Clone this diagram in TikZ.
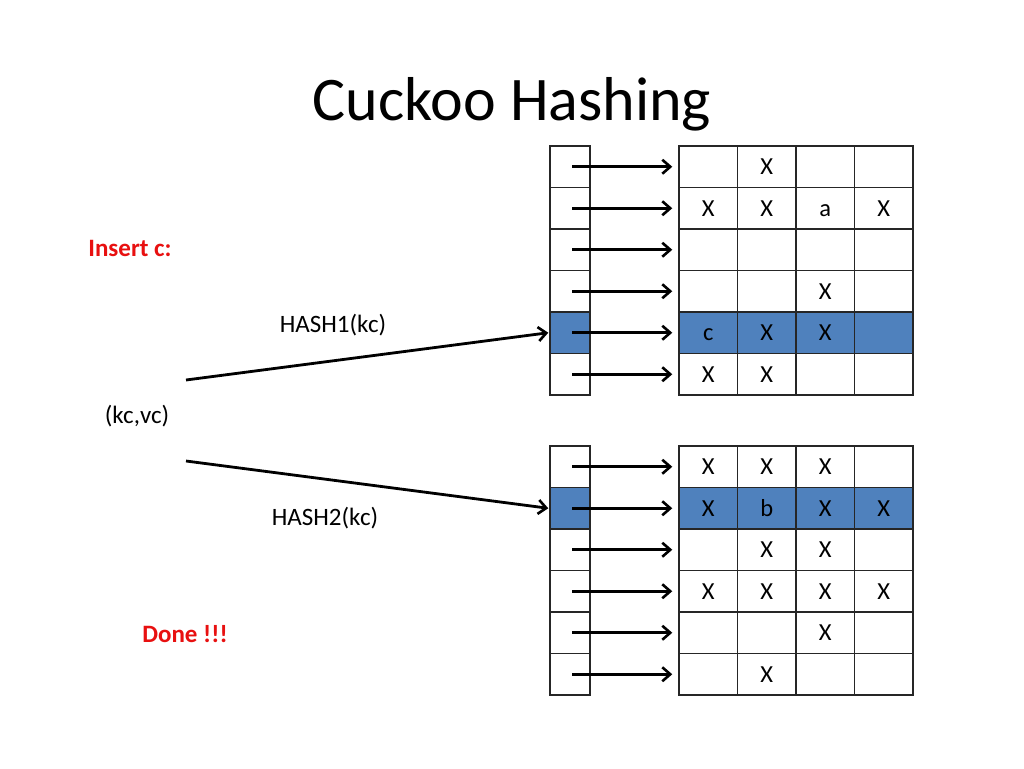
\documentclass[tikz,border=0pt]{standalone}
\usepackage{fontspec}
\setmainfont{Carlito}
\usetikzlibrary{arrows.meta}
\definecolor{hlblue}{HTML}{4F81BD}
\definecolor{hred}{HTML}{E81010}
\newcommand{\cv}[1]{\edef\tmpv{#1}\def\tmpd{-}\ifx\tmpv\tmpd\else#1\fi}
\tikzset{
  cellbox/.style={draw=black!85, line width=1.5pt, minimum width=58.5pt, minimum height=41.5pt, inner sep=0pt, text height=15.5pt, text depth=0pt, font=\fontsize{24.5}{28}\selectfont},
  idxbox/.style={draw=black!85, line width=1.5pt, minimum width=40pt, minimum height=41.5pt, inner sep=0pt},
  hl/.style={fill=hlblue},
  arr/.style={line width=2.8pt, -{Straight Barb[length=8pt,width=14pt,line width=2.6pt]}},
  lbl/.style={font=\fontsize{25}{28}\selectfont},
  redlbl/.style={font=\fontsize{25}{28}\selectfont\bfseries, text=hred}
}
\begin{document}
\begin{tikzpicture}[x=1pt,y=-1pt]
\useasboundingbox[fill=white] (0,0) rectangle (1024,768);
\node[anchor=base, font=\fontsize{62}{70}\selectfont] (title) at (512,120) {Cuckoo Hashing};
% upper table
\foreach \r/\a/\b/\c/\d in {1/-/X/-/-, 2/X/X/a/X, 3/-/-/-/-, 4/-/-/X/-, 5/c/X/X/-, 6/X/X/-/-}{
  \pgfmathsetmacro{\yy}{146+41.5*(\r-0.5)}
  \ifnum\r=5 \tikzset{rowsty/.style={hl}}\else\tikzset{rowsty/.style={}}\fi
  \node[idxbox,rowsty] (u\r) at (570,\yy) {};
  \node[cellbox,rowsty] (ut\r-1) at (679+58.5*0.5,\yy) {\cv{\a}};
  \node[cellbox,rowsty] (ut\r-2) at (679+58.5*1.5,\yy) {\cv{\b}};
  \node[cellbox,rowsty] (ut\r-3) at (679+58.5*2.5,\yy) {\cv{\c}};
  \node[cellbox,rowsty] (ut\r-4) at (679+58.5*3.5,\yy) {\cv{\d}};
  \draw[arr] ([xshift=2pt]u\r.center) -- ([xshift=-6pt]ut\r-1.west);
}
% lower table
\foreach \r/\a/\b/\c/\d in {1/X/X/X/-, 2/X/b/X/X, 3/-/X/X/-, 4/X/X/X/X, 5/-/-/X/-, 6/-/X/-/-}{
  \pgfmathsetmacro{\yy}{446+41.5*(\r-0.5)}
  \ifnum\r=2 \tikzset{rowsty/.style={hl}}\else\tikzset{rowsty/.style={}}\fi
  \node[idxbox,rowsty] (l\r) at (570,\yy) {};
  \node[cellbox,rowsty] (lt\r-1) at (679+58.5*0.5,\yy) {\cv{\a}};
  \node[cellbox,rowsty] (lt\r-2) at (679+58.5*1.5,\yy) {\cv{\b}};
  \node[cellbox,rowsty] (lt\r-3) at (679+58.5*2.5,\yy) {\cv{\c}};
  \node[cellbox,rowsty] (lt\r-4) at (679+58.5*3.5,\yy) {\cv{\d}};
  \draw[arr] ([xshift=2pt]l\r.center) -- ([xshift=-6pt]lt\r-1.west);
}
% labels
\node[redlbl] (ins) at (130,248) {Insert c:};
\node[lbl] (h1) at (333,325) {HASH1(kc)};
\node[lbl] (kv) at (137,416) {(kc,vc)};
\node[lbl] (h2) at (325,518) {HASH2(kc)};
\node[redlbl] (done) at (185,634) {Done !!!};
\coordinate (s1) at (186,380);
\coordinate (s2) at (186,461);
\draw[arr] (s1) -- ([xshift=-1pt]u5.west);
\draw[arr] (s2) -- ([xshift=-1pt]l2.west);
\end{tikzpicture}
\end{document}
